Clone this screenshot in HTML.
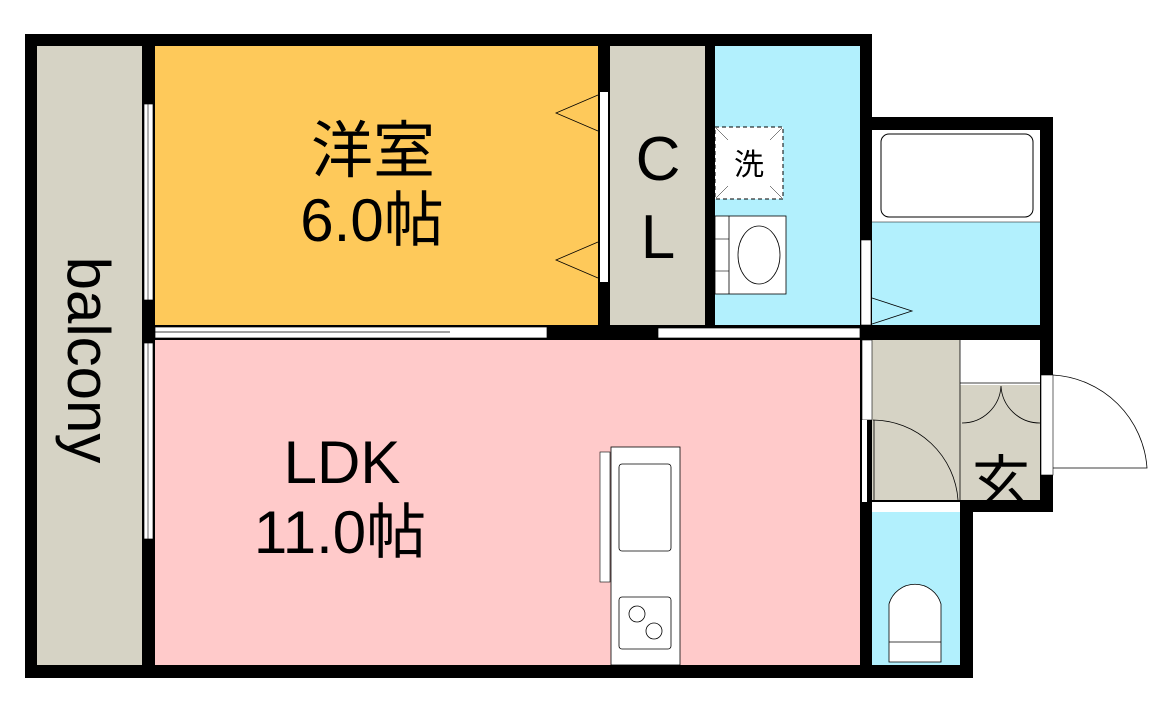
<!DOCTYPE html>
<html><head><meta charset="utf-8"><style>
html,body{margin:0;padding:0;background:#fff;}
svg{display:block}
text{font-family:"Liberation Sans","Noto Sans CJK JP",sans-serif;fill:#000}
</style></head><body>
<svg width="1166" height="705" viewBox="0 0 1166 705" xmlns="http://www.w3.org/2000/svg">
<rect x="25" y="34" width="847" height="644" fill="#000"/>
<rect x="860" y="117" width="193" height="395" fill="#000"/>
<rect x="860" y="500" width="113" height="178" fill="#000"/>
<rect x="37" y="46" width="105" height="619" fill="#d6d3c5"/>
<rect x="155" y="46" width="443" height="279" fill="#fec95a"/>
<rect x="610" y="46" width="95" height="279" fill="#d6d3c5"/>
<rect x="715" y="46" width="145" height="279" fill="#b2f0fd"/>
<rect x="872" y="130" width="168" height="195" fill="#b2f0fd"/>
<rect x="155" y="340" width="705" height="325" fill="#ffcaca"/>
<rect x="872" y="340" width="88" height="160" fill="#d6d3c5"/>
<rect x="960" y="340" width="80" height="45" fill="#fff"/>
<rect x="960" y="385" width="80" height="115" fill="#d6d3c5"/>
<rect x="872" y="512" width="88" height="153" fill="#b2f0fd"/>
<rect x="860" y="665" width="113" height="13" fill="#000"/>
<rect x="144" y="104" width="9" height="196" fill="#fff" stroke="#000" stroke-width="0.7"/>
<line x1="148" y1="104" x2="148" y2="300" stroke="#000" stroke-width="0.6"/>
<rect x="144" y="343" width="9" height="196" fill="#fff" stroke="#000" stroke-width="0.7"/>
<line x1="148" y1="343" x2="148" y2="539" stroke="#000" stroke-width="0.6"/>
<rect x="155" y="327" width="392" height="11" fill="#fff" stroke="#000" stroke-width="0.7"/>
<line x1="155" y1="332" x2="450" y2="332" stroke="#000" stroke-width="0.8"/>
<rect x="658" y="328" width="202" height="10" fill="#fff" stroke="#000" stroke-width="0.7"/>
<rect x="600" y="92" width="8" height="190" fill="#fff"/>
<polyline points="598,95 556,113 598,131" fill="none" stroke="#000" stroke-width="0.8"/>
<polyline points="598,242 556,260 598,278" fill="none" stroke="#000" stroke-width="0.8"/>
<rect x="861" y="240" width="10" height="85" fill="#fff" stroke="#000" stroke-width="0.6"/>
<polyline points="872,298 912,311 872,324" fill="none" stroke="#000" stroke-width="0.8"/>
<rect x="862" y="340" width="10" height="80" fill="#fff" stroke="#000" stroke-width="0.6"/>
<rect x="862" y="420" width="5" height="82" fill="#fff"/>
<path d="M873,420 A86,86 0 0 1 958,500" fill="none" stroke="#000" stroke-width="0.8"/>
<line x1="874" y1="420" x2="874" y2="500" stroke="#000" stroke-width="0.8"/>
<rect x="872" y="502" width="88" height="10" fill="#fff"/>
<rect x="1041" y="375" width="12" height="100" fill="#fff" stroke="#000" stroke-width="0.6"/>
<path d="M1053,375 A100,100 0 0 1 1147,468 L1053,468" fill="none" stroke="#000" stroke-width="0.8"/>
<line x1="960" y1="340" x2="960" y2="500" stroke="#000" stroke-width="0.8"/>
<line x1="960" y1="383" x2="1040" y2="383" stroke="#000" stroke-width="0.8"/>
<path d="M962,423 A39,39 0 0 0 1001,386 A39,39 0 0 0 1040,423" fill="none" stroke="#000" stroke-width="0.8"/>
<rect x="872" y="130" width="168" height="92" fill="#fff"/>
<line x1="872" y1="222" x2="1040" y2="222" stroke="#000" stroke-width="0.6"/>
<rect x="881" y="134" width="152" height="83" rx="8" fill="#fff" stroke="#000" stroke-width="1"/>
<rect x="715" y="127" width="68" height="72" fill="#fff" stroke="#000" stroke-width="1" stroke-dasharray="4,3"/>
<line x1="716" y1="128" x2="728" y2="140" stroke="#000" stroke-width="0.5"/>
<line x1="782" y1="128" x2="770" y2="140" stroke="#000" stroke-width="0.5"/>
<line x1="716" y1="198" x2="728" y2="186" stroke="#000" stroke-width="0.5"/>
<line x1="782" y1="198" x2="770" y2="186" stroke="#000" stroke-width="0.5"/>
<text x="749" y="175" font-size="30" text-anchor="middle">洗</text>
<rect x="715" y="216" width="71" height="78" fill="#fff" stroke="#000" stroke-width="0.8"/>
<line x1="729" y1="216" x2="729" y2="294" stroke="#000" stroke-width="0.8"/>
<line x1="715" y1="239" x2="729" y2="239" stroke="#000" stroke-width="0.6"/>
<line x1="715" y1="271" x2="729" y2="271" stroke="#000" stroke-width="0.6"/>
<ellipse cx="759" cy="255" rx="21" ry="29" fill="#fff" stroke="#000" stroke-width="0.8"/>
<rect x="600" y="452" width="10" height="130" fill="#fff" stroke="#000" stroke-width="0.6"/>
<rect x="611" y="447" width="69" height="218" fill="#fff" stroke="#000" stroke-width="0.8"/>
<rect x="619" y="464" width="52" height="87" rx="3" fill="#fff" stroke="#000" stroke-width="0.8"/>
<rect x="619" y="597" width="52" height="52" rx="3" fill="#fff" stroke="#000" stroke-width="0.8"/>
<circle cx="637" cy="614" r="8" fill="none" stroke="#000" stroke-width="0.8"/>
<circle cx="654" cy="631" r="8" fill="none" stroke="#000" stroke-width="0.8"/>
<path d="M889,662 L889,604 A27,27 0 0 1 941,604 L941,662 Z" fill="#fff" stroke="#000" stroke-width="0.8"/>
<line x1="889" y1="642" x2="941" y2="642" stroke="#000" stroke-width="0.8"/>
<text x="373" y="172" font-size="62" text-anchor="middle">洋室</text>
<text x="372" y="241" font-size="60" text-anchor="middle">6.0帖</text>
<text x="658" y="180" font-size="62" text-anchor="middle">C</text>
<text x="658" y="258" font-size="62" text-anchor="middle">L</text>
<text x="342" y="483" font-size="60" text-anchor="middle">LDK</text>
<text x="340" y="553" font-size="60" text-anchor="middle">11.0帖</text>
<text x="1001" y="503" font-size="58" text-anchor="middle">玄</text>
<text transform="translate(68,360) rotate(90)" font-size="60" text-anchor="middle">balcony</text>
</svg>
</body></html>
